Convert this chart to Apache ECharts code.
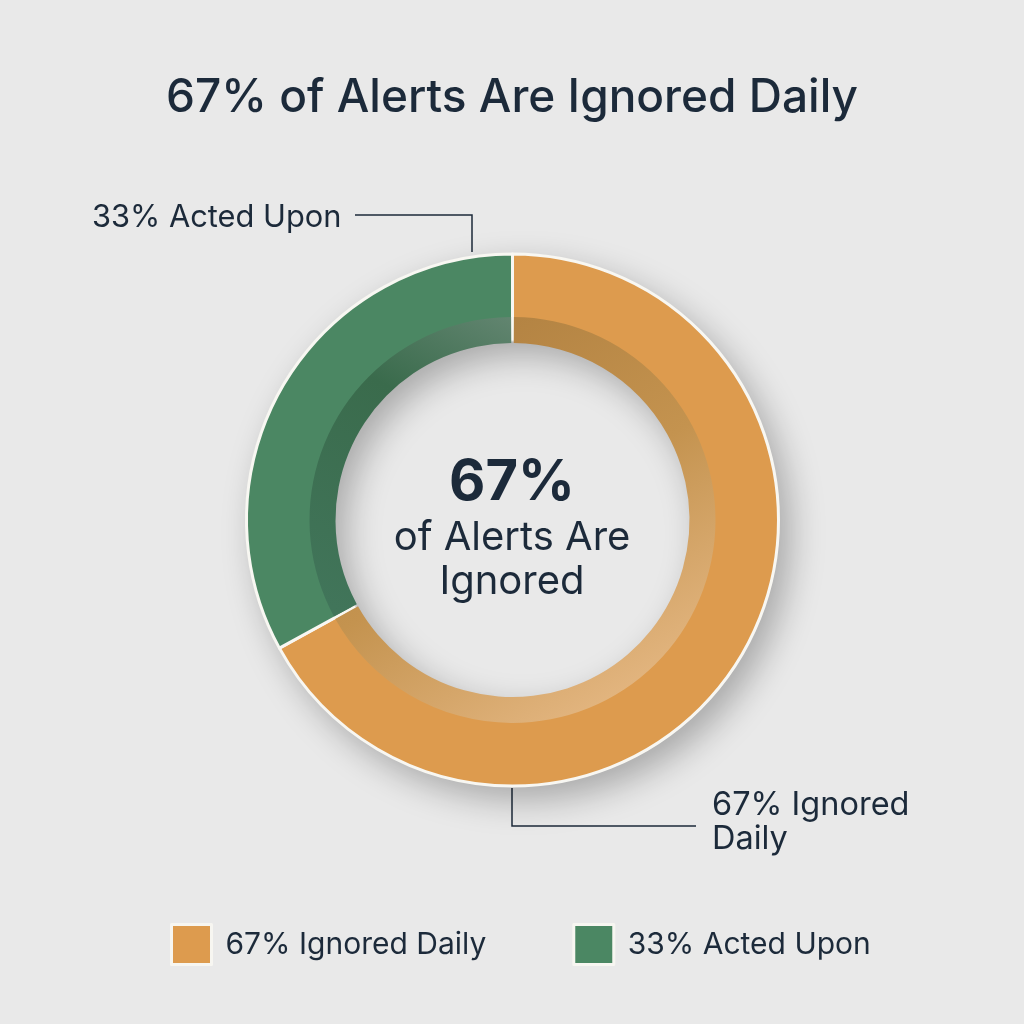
<!DOCTYPE html>
<html>
<head>
<meta charset="utf-8">
<style>
html, body { margin: 0; padding: 0; background: #e9e9e9; }
#main { width: 1024px; height: 1024px; }
</style>
<script src="https://cdn.jsdelivr.net/npm/echarts@6/dist/echarts.min.js"></script>
</head>
<body>
<div id="main"></div>
<script>
const categories = ['67% Ignored Daily', '33% Acted Upon'];
const shares = [67, 33];
const mainTitle = '67% of Alerts Are Ignored Daily';
const centerLines = ['67%', 'of Alerts Are', 'Ignored'];
const calloutLeft = '33% Acted Upon';
const calloutRight = ['67% Ignored', 'Daily'];

const ink = '#1c2a3a';
const fontName = 'Inter';
const orange = '#dd9b4e';
const green = '#4b8763';
const center = [512.5, 520];

function grad(x, y, x2, y2, stops) {
  return new echarts.graphic.LinearGradient(x, y, x2, y2, stops);
}
const bandColors = [
  grad(0.25, 0, 0.85, 0.95, [
    { offset: 0, color: '#b08040' },
    { offset: 0.5, color: '#c4934f' },
    { offset: 1, color: '#e6b985' }
  ]),
  grad(1, 0, 0.2, 1, [
    { offset: 0, color: '#628570' },
    { offset: 0.35, color: '#3a6b4c' },
    { offset: 1, color: '#41755a' }
  ])
];

function text(x, y, str, size, weight, align) {
  return {
    type: 'text',
    silent: true,
    style: {
      x: x, y: y, text: str, fill: ink,
      font: weight + ' ' + size + 'px ' + fontName,
      textAlign: align || 'left',
      textVerticalAlign: 'middle'
    }
  };
}
function leader(points) {
  return {
    type: 'polyline',
    silent: true,
    shape: { points: points },
    style: { stroke: ink, lineWidth: 1.5, fill: null }
  };
}

const chart = echarts.init(document.getElementById('main'));
chart.setOption({
  backgroundColor: '#e9e9e9',
  animation: false,
  legend: {
    data: categories,
    left: 170,
    top: 923,
    padding: 0,
    itemWidth: 40,
    itemHeight: 40,
    itemGap: 86,
    icon: 'rect',
    itemStyle: { borderColor: '#f7f6f1', borderWidth: 3 },
    textStyle: { color: ink, fontFamily: fontName, fontSize: 30, fontWeight: 400, padding: [4, 0, 0, 9] },
    selectedMode: false
  },
  graphic: [
    text(512, 98, mainTitle, 46, 500, 'center'),
    text(512, 483, centerLines[0], 56, 700, 'center'),
    text(512, 538, centerLines[1], 40, 400, 'center'),
    text(512, 582, centerLines[2], 40, 400, 'center'),
    text(92, 218, calloutLeft, 30.8, 400),
    text(712, 805, calloutRight[0], 32.5, 400),
    text(712, 839, calloutRight[1], 32.5, 400),
    leader([[355, 215], [472, 215], [472, 252]]),
    leader([[512, 788], [512, 826], [696, 826]])
  ],
  series: [
    {
      // shadow under the whole ring
      type: 'pie',
      center: center,
      radius: [178, 267],
      silent: true,
      label: { show: false },
      labelLine: { show: false },
      itemStyle: {
        color: '#cccccc',
        shadowBlur: 34,
        shadowOffsetX: 11,
        shadowOffsetY: 13,
        shadowColor: 'rgba(0,0,0,0.28)'
      },
      data: [shares[0] + shares[1]]
    },
    {
      type: 'pie',
      center: center,
      radius: [181, 266],
      startAngle: 90,
      clockwise: true,
      silent: true,
      label: { show: false },
      labelLine: { show: false },
      itemStyle: { borderColor: '#f8f7f2', borderWidth: 3 },
      data: categories.map((name, i) => ({
        name: name,
        value: shares[i],
        itemStyle: { color: [orange, green][i] }
      }))
    },
    {
      // darker inner band of the ring
      type: 'pie',
      center: center,
      radius: [177, 203],
      startAngle: 90,
      clockwise: true,
      padAngle: 0.8,
      silent: true,
      label: { show: false },
      labelLine: { show: false },
      data: categories.map((name, i) => ({
        name: name,
        value: shares[i],
        itemStyle: { color: bandColors[i] }
      }))
    }
  ]
});
</script>
</body>
</html>
